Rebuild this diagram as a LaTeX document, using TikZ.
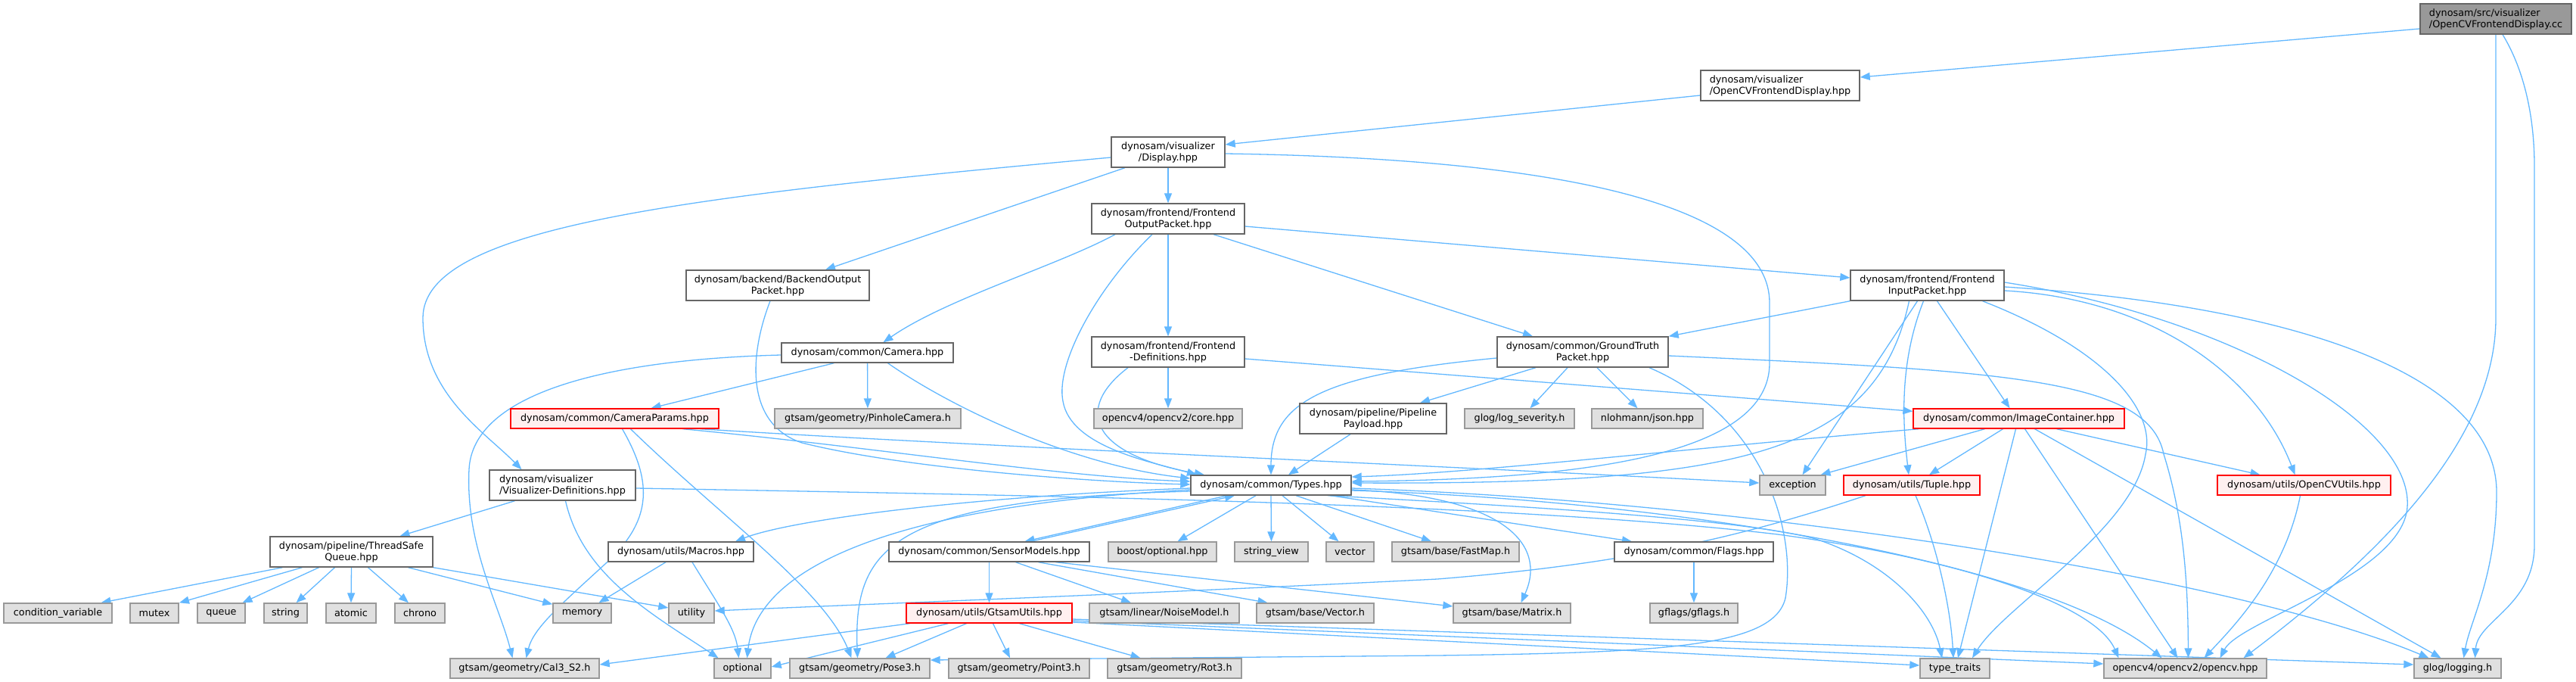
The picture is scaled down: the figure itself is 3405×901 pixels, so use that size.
\documentclass[tikz,border=0pt]{standalone}
\usepackage{fontspec}
\setmainfont{DejaVu Sans}
\usetikzlibrary{arrows.meta}
\definecolor{edgec}{HTML}{63B8FF}
\definecolor{gfill}{HTML}{E0E0E0}
\definecolor{gdraw}{HTML}{999999}
\definecolor{wdraw}{HTML}{666666}
\definecolor{rfill}{HTML}{FFF0F0}
\definecolor{rdraw}{HTML}{FF0000}
\definecolor{cfill}{HTML}{999999}
\pgfdeclarelayer{bg}
\pgfsetlayers{bg,main}
\begin{document}
\begin{tikzpicture}[x=1pt,y=-1pt,
  base/.style={rectangle,inner sep=0pt,line width=1.4pt,text=black,
    font=\fontsize{12.8}{15}\selectfont,align=center},
  wbox/.style={base,draw=wdraw,fill=white},
  gbox/.style={base,draw=gdraw,fill=gfill},
  rbox/.style={base,draw=rdraw,fill=rfill},
  cbox/.style={base,draw=wdraw,fill=cfill},
  sz/.style 2 args={minimum width=#1pt,minimum height=#2pt},
  edge/.style={draw=edgec,line width=1.3pt,-{Triangle[length=13pt,width=10pt]}}]
\useasboundingbox (0,0) rectangle (3405,901);
% nodes
\node[cbox,sz={200}{40},align=left] (cc) at (3299,25) {dynosam/src/visualizer\\/OpenCVFrontendDisplay.cc};
\node[wbox,sz={210}{40},align=left] (ocvdisp) at (2353,113) {dynosam/visualizer\\/OpenCVFrontendDisplay.hpp};
\node[wbox,sz={150}{40}] (display) at (1544,201) {dynosam/visualizer\\/Display.hpp};
\node[wbox,sz={202}{40}] (feout) at (1544,289) {dynosam/frontend/Frontend\\OutputPacket.hpp};
\node[wbox,sz={242}{40}] (beout) at (1028,377) {dynosam/backend/BackendOutput\\Packet.hpp};
\node[wbox,sz={203}{40}] (fein) at (2547.5,377) {dynosam/frontend/Frontend\\InputPacket.hpp};
\node[wbox,sz={227}{26}] (camera) at (1146.5,466) {dynosam/common/Camera.hpp};
\node[wbox,sz={202}{40}] (fedefs) at (1544,465) {dynosam/frontend/Frontend\\-Definitions.hpp};
\node[wbox,sz={226}{40}] (gt) at (2092,465) {dynosam/common/GroundTruth\\Packet.hpp};
\node[rbox,sz={275}{26}] (camparams) at (812.5,553) {dynosam/common/CameraParams.hpp};
\node[gbox,sz={246}{26}] (pinhole) at (1147,553) {gtsam/geometry/PinholeCamera.h};
\node[gbox,sz={196}{26}] (cvcore) at (1544,553) {opencv4/opencv2/core.hpp};
\node[wbox,sz={194}{40}] (payload) at (1815,553) {dynosam/pipeline/Pipeline\\Payload.hpp};
\node[gbox,sz={145}{26}] (logsev) at (2008.5,553) {glog/log\_severity.h};
\node[gbox,sz={147}{26}] (json) at (2177.5,553) {nlohmann/json.hpp};
\node[rbox,sz={279}{26}] (imgcont) at (2668.5,553) {dynosam/common/ImageContainer.hpp};
\node[wbox,sz={193}{40},align=left] (visdefs) at (743.5,641) {dynosam/visualizer\\/Visualizer-Definitions.hpp};
\node[wbox,sz={212}{26}] (types) at (1680,641) {dynosam/common/Types.hpp};
\node[gbox,sz={87}{26}] (exception) at (2369.5,641) {exception};
\node[rbox,sz={180}{26}] (tuple) at (2527,641) {dynosam/utils/Tuple.hpp};
\node[rbox,sz={229}{26}] (ocvutils) at (3045.5,641) {dynosam/utils/OpenCVUtils.hpp};
\node[wbox,sz={215}{40}] (tsq) at (464.5,729) {dynosam/pipeline/ThreadSafe\\Queue.hpp};
\node[wbox,sz={192}{26}] (macros) at (900,729) {dynosam/utils/Macros.hpp};
\node[wbox,sz={265}{26}] (sensor) at (1307.5,729) {dynosam/common/SensorModels.hpp};
\node[gbox,sz={143}{26}] (boostopt) at (1536.5,729) {boost/optional.hpp};
\node[gbox,sz={97}{26}] (strview) at (1680.5,729) {string\_view};
\node[gbox,sz={63}{26}] (vector) at (1784.5,729) {vector};
\node[gbox,sz={168}{26}] (fastmap) at (1924,729) {gtsam/base/FastMap.h};
\node[wbox,sz={210}{26}] (flags) at (2239,729) {dynosam/common/Flags.hpp};
\node[gbox,sz={143}{26}] (condvar) at (76.5,810) {condition\_variable};
\node[gbox,sz={64}{26}] (mutex) at (204,810) {mutex};
\node[gbox,sz={63}{26}] (queue) at (292.5,810) {queue};
\node[gbox,sz={57}{26}] (string) at (377.5,810) {string};
\node[gbox,sz={66}{26}] (atomic) at (464,810) {atomic};
\node[gbox,sz={66}{26}] (chrono) at (555,810) {chrono};
\node[gbox,sz={77}{26}] (memory) at (769.5,810) {memory};
\node[gbox,sz={60}{26}] (utility) at (914,810) {utility};
\node[rbox,sz={219}{26}] (gtsamutils) at (1307.5,810) {dynosam/utils/GtsamUtils.hpp};
\node[gbox,sz={198}{26}] (noise) at (1539,810) {gtsam/linear/NoiseModel.h};
\node[gbox,sz={155}{26}] (vectorh) at (1738.5,810) {gtsam/base/Vector.h};
\node[gbox,sz={155}{26}] (matrix) at (1998.5,810) {gtsam/base/Matrix.h};
\node[gbox,sz={116}{26}] (gflags) at (2239,810) {gflags/gflags.h};
\node[gbox,sz={197}{26}] (cal3) at (693.5,883) {gtsam/geometry/Cal3\_S2.h};
\node[gbox,sz={75}{26}] (optional) at (981.5,883) {optional};
\node[gbox,sz={185}{26}] (pose3) at (1136.5,883) {gtsam/geometry/Pose3.h};
\node[gbox,sz={186}{26}] (point3) at (1347,883) {gtsam/geometry/Point3.h};
\node[gbox,sz={177}{26}] (rot3) at (1552.5,883) {gtsam/geometry/Rot3.h};
\node[gbox,sz={92}{26}] (typetraits) at (2584,883) {type\_traits};
\node[gbox,sz={215}{26}] (opencv) at (2888.5,883) {opencv4/opencv2/opencv.hpp};
\node[gbox,sz={115}{26}] (logging) at (3248.5,883) {glog/logging.h};
% edges
\begin{pgfonlayer}{bg}
\draw[edge] ([yshift=-13pt]cc.west) -- ([yshift=11pt]ocvdisp.east);
\draw[edge] (cc.south) -- (3299,420) .. controls (3299,580) and (3150,730) .. ([xshift=77pt]opencv.north);
\draw[edge] ([xshift=9pt]cc.south) .. controls (3335,90) and (3350,150) .. (3350,220) -- (3350,720) .. controls (3350,800) and (3275,820) .. ([xshift=23pt]logging.north);
\draw[edge] ([yshift=-13pt]ocvdisp.west) -- ([yshift=10pt]display.east);
\draw[edge] (display) -- (feout);
\draw[edge] ([xshift=-57pt]display.south) -- ([xshift=63pt]beout.north);
\draw[edge] ([yshift=-7pt]display.west) .. controls (900,260) and (559,300) .. (559,420) .. controls (559,520) and (640,570) .. ([xshift=-54pt]visdefs.north);
\draw[edge] ([yshift=-2pt]display.east) .. controls (2100,210) and (2339,280) .. (2339,400) -- (2339,480) .. controls (2339,600) and (2100,633) .. ([yshift=5pt]types.east);
\draw[edge] ([yshift=-10pt]feout.east) -- ([yshift=10pt]fein.west);
\draw[edge] ([xshift=60pt]feout.south) -- ([xshift=-66pt]gt.north);
\draw[edge] (feout) -- (fedefs);
\draw[edge] ([xshift=-70pt]feout.south) .. controls (1400,350) and (1250,395) .. ([xshift=21pt]camera.north);
\draw[edge] ([xshift=-21pt]feout.south) .. controls (1450,380) and (1395,480) .. (1405,530) .. controls (1415,590) and (1520,610) .. ([xshift=-98pt]types.north);
\draw[edge] (fedefs) -- (cvcore);
\draw[edge] ([xshift=-53pt]fedefs.south) .. controls (1420,540) and (1440,600) .. ([xshift=-88pt]types.north);
\draw[edge] ([yshift=-9pt]fedefs.east) -- ([yshift=-4pt]imgcont.north west);
\draw[edge] ([xshift=-44pt]camera.south) -- ([xshift=48pt]camparams.north);
\draw[edge] (camera) -- (pinhole);
\draw[edge] ([yshift=-3pt]camera.west) .. controls (800,475) and (625,520) .. (620,620) .. controls (615,720) and (660,800) .. ([xshift=-16pt]cal3.north);
\draw[edge] ([xshift=27pt]camera.south) .. controls (1260,540) and (1420,615) .. ([yshift=9pt]types.west);
\draw[edge] ([xshift=10pt]camparams.south) .. controls (865,640) and (860,690) .. (800,745) .. controls (740,800) and (705,830) .. ([xshift=2pt]cal3.north);
\draw[edge] ([xshift=21pt]camparams.south) .. controls (950,680) and (1090,780) .. ([xshift=-11pt]pose3.north);
\draw[edge] ([xshift=90pt]camparams.south) .. controls (1150,590) and (1400,630) .. ([yshift=5pt]types.west);
\draw[edge] ([xshift=113pt]camparams.south) .. controls (1300,590) and (1900,615) .. ([yshift=3pt]exception.west);
\draw[edge] ([xshift=-63pt]visdefs.south) -- ([xshift=64pt]tsq.north);
\draw[edge] ([xshift=4pt]visdefs.south) .. controls (770,760) and (860,810) .. ([xshift=-32pt]optional.north);
\draw[edge] ([yshift=-4pt]visdefs.east) .. controls (1400,655) and (2000,665) .. (2350,706) .. controls (2600,740) and (2770,800) .. ([xshift=-88pt]opencv.north);
\draw[edge] ([xshift=-91pt]tsq.south) -- ([xshift=57pt]condvar.north);
\draw[edge] ([xshift=-65pt]tsq.south) -- ([xshift=33pt]mutex.north);
\draw[edge] ([xshift=-43pt]tsq.south) -- ([xshift=28pt]queue.north);
\draw[edge] ([xshift=-22pt]tsq.south) -- ([xshift=14pt]string.north);
\draw[edge] (tsq.south) -- (atomic.north);
\draw[edge] ([xshift=22pt]tsq.south) -- ([xshift=-15pt]chrono.north);
\draw[edge] ([xshift=75pt]tsq.south) -- ([yshift=-2pt]memory.north west);
\draw[edge] (tsq.south east) -- ([yshift=7pt]utility.west);
\draw[edge] ([xshift=-20pt]macros.south) -- ([xshift=22pt]memory.north);
\draw[edge] ([xshift=15pt]macros.south) .. controls (950,800) and (972,830) .. ([xshift=-5pt]optional.north);
\draw[edge] ([xshift=-10pt]beout.south) .. controls (990,470) and (985,560) .. (1060,585) .. controls (1200,620) and (1450,637) .. ([yshift=1pt]types.west);
\draw[edge] ([xshift=-58pt]types.south) -- ([xshift=47pt]sensor.north);
\draw[edge] ([xshift=55pt]sensor.north) -- ([xshift=-48pt]types.south);
\draw[edge] ([xshift=-20pt]types.south) -- ([xshift=20pt]boostopt.north);
\draw[edge] (types.south) -- (strview.north);
\draw[edge] ([xshift=15pt]types.south) -- ([xshift=-15pt]vector.north);
\draw[edge] ([xshift=33pt]types.south) -- ([xshift=-32pt]fastmap.north);
\draw[edge] ([xshift=79pt]types.south) -- ([xshift=-82pt]flags.north);
\draw[edge] ([yshift=-6pt]types.east) .. controls (1990,655) and (2045,720) .. ([xshift=12pt]matrix.north);
\draw[edge] ([yshift=-4pt]types.west) .. controls (1300,655) and (1050,685) .. ([xshift=72pt]macros.north);
\draw[edge] ([yshift=-6pt]types.west) .. controls (1150,670) and (1000,760) .. ([xshift=6pt]optional.north);
\draw[edge] ([yshift=-8pt]types.west) .. controls (1180,660) and (1128,720) .. ([xshift=-3pt]pose3.north);
\draw[edge] ([yshift=-7pt]types.east) .. controls (2200,660) and (2700,740) .. ([xshift=-31pt]opencv.north);
\draw[edge] ([yshift=-4pt]types.east) .. controls (2300,662) and (2950,760) .. ([xshift=-38pt]logging.north);
\draw[edge] ([xshift=75pt]types.south) .. controls (2000,668) and (2300,685) .. (2400,712) .. controls (2500,745) and (2555,810) .. ([xshift=-17pt]typetraits.north);
\draw[edge] (sensor) -- (gtsamutils);
\draw[edge] ([xshift=35pt]sensor.south) -- ([xshift=-44pt]noise.north);
\draw[edge] ([xshift=65pt]sensor.south) -- ([xshift=-63pt]vectorh.north);
\draw[edge] ([xshift=88pt]sensor.south) -- ([yshift=9pt]matrix.west);
\draw[edge] ([xshift=-30pt]gtsamutils.south) -- ([xshift=34pt]pose3.north);
\draw[edge] ([xshift=5pt]gtsamutils.south) -- ([xshift=-12pt]point3.north);
\draw[edge] ([xshift=40pt]gtsamutils.south) -- ([xshift=-45pt]rot3.north);
\draw[edge] ([xshift=-105pt]gtsamutils.south) -- ([yshift=5pt]cal3.east);
\draw[edge] ([xshift=-54pt]gtsamutils.south) -- ([yshift=2pt]optional.east);
\draw[edge] ([yshift=-8pt]gtsamutils.east) -- ([yshift=5pt]logging.west);
\draw[edge] ([yshift=-10pt]gtsamutils.east) -- ([yshift=6pt]opencv.west);
\draw[edge] ([yshift=-12pt]gtsamutils.east) -- ([yshift=4pt]typetraits.west);
\draw[edge] ([xshift=-61pt]tuple.south) .. controls (2300,710) and (2150,745) .. (1900,765) .. controls (1500,785) and (1100,800) .. ([yshift=3pt]utility.east);
\draw[edge] ([xshift=5pt]tuple.south) .. controls (2560,720) and (2578,800) .. ([xshift=-2pt]typetraits.north);
\draw[edge] ([xshift=-132pt]imgcont.south) .. controls (2200,595) and (1950,625) .. ([yshift=11pt]types.east);
\draw[edge] ([xshift=-45pt]imgcont.south) -- ([xshift=37pt]exception.north);
\draw[edge] ([xshift=-21pt]imgcont.south) -- ([xshift=23pt]tuple.north);
\draw[edge] ([xshift=-4pt]imgcont.south) -- ([xshift=4pt]typetraits.north);
\draw[edge] ([xshift=8pt]imgcont.south) -- ([xshift=-10pt]opencv.north);
\draw[edge] ([xshift=21pt]imgcont.south) -- ([xshift=-22pt]logging.north);
\draw[edge] ([xshift=50pt]imgcont.south) -- ([xshift=-58pt]ocvutils.north);
\draw[edge] (fein.south west) -- (gt.north east);
\draw[edge] ([xshift=-13pt]fein.south) -- ([xshift=13pt]exception.north);
\draw[edge] ([xshift=-5pt]fein.south) .. controls (2510,480) and (2515,560) .. ([xshift=-4pt]tuple.north);
\draw[edge] ([xshift=13pt]fein.south) -- ([xshift=-12pt]imgcont.north);
\draw[edge] ([xshift=-24pt]fein.south) .. controls (2480,600) and (2300,640) .. ([yshift=3pt]types.east);
\draw[edge] ([xshift=73pt]fein.south) .. controls (2780,460) and (2850,540) .. (2836,600) .. controls (2820,700) and (2650,800) .. ([xshift=23pt]typetraits.north);
\draw[edge] ([yshift=4pt]fein.east) .. controls (2950,420) and (3190,560) .. (3182,670) .. controls (3175,760) and (2960,820) .. ([xshift=46pt]opencv.north);
\draw[edge] ([yshift=-7pt]fein.east) .. controls (2850,395) and (2985,500) .. ([xshift=-12pt]ocvutils.north);
\draw[edge] ([yshift=-2pt]fein.east) .. controls (3050,405) and (3300,500) .. (3300,650) .. controls (3300,760) and (3265,820) .. ([xshift=8pt]logging.north);
\draw[edge] ([xshift=-5pt]ocvutils.south) .. controls (3020,760) and (2950,830) .. ([xshift=25pt]opencv.north);
\draw[edge] ([xshift=-62pt]gt.south) -- ([xshift=62pt]payload.north);
\draw[edge] ([xshift=-20pt]gt.south) -- ([xshift=14pt]logsev.north);
\draw[edge] ([xshift=19pt]gt.south) -- ([xshift=-13pt]json.north);
\draw[edge] ([yshift=-8pt]gt.west) .. controls (1750,495) and (1680,530) .. (types.north);
\draw[edge] ([xshift=88pt]gt.south) .. controls (2330,550) and (2375,700) .. (2360,790) .. controls (2345,855) and (2200,862) .. (1900,866) -- ([yshift=11pt]pose3.east);
\draw[edge] ([yshift=-5pt]gt.east) .. controls (2650,490) and (2840,500) .. (2860,600) .. controls (2885,680) and (2892,760) .. ([xshift=4pt]opencv.north);
\draw[edge] ([xshift=-30pt]payload.south) -- ([xshift=23pt]types.north);
\draw[edge] (flags) -- (gflags);
\end{pgfonlayer}
\end{tikzpicture}
\end{document}
